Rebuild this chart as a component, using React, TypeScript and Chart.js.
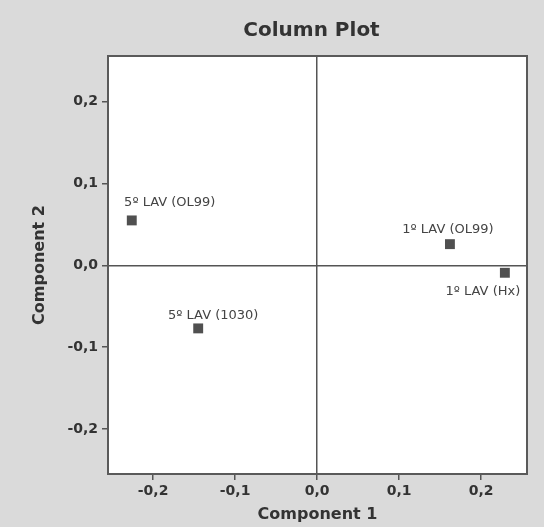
import React, { useEffect, useRef } from "react";
import { Chart, registerables } from "chart.js";

Chart.register(...registerables);

const pointLabels = ["5º LAV (OL99)", "5º LAV (1030)", "1º LAV (OL99)", "1º LAV (Hx)"];
const comp1 = [-0.226, -0.145, 0.162, 0.229];
const comp2 = [0.055, -0.077, 0.026, -0.009];
const tickValues = [-0.2, -0.1, 0, 0.1, 0.2];
const axisMin = -0.255;
const axisMax = 0.256;
const chartTitle = "Column Plot";
const xTitle = "Component 1";
const yTitle = "Component 2";

// label placement (style): offset of label centre from the point, in px
const labelOffsets = [
  [38, -18],
  [15, -13],
  [-2, -15],
  [-22, 19],
];

const FONT = "'DejaVu Sans', Verdana, sans-serif";
const fmt = (v: number) => (Math.abs(v) < 1e-9 ? "0,0" : v.toFixed(1).replace(".", ","));

export default function App() {
  const ref = useRef<HTMLCanvasElement | null>(null);

  useEffect(() => {
    document.body.style.margin = "0";
    document.body.style.background = "#dadada";
    const canvas = ref.current;
    if (!canvas) return;

    const framePlugin = {
      id: "frame",
      beforeDraw(chart: any) {
        const { ctx, chartArea: a } = chart;
        ctx.save();
        ctx.fillStyle = "#dadada";
        ctx.fillRect(0, 0, chart.width, chart.height);
        ctx.fillStyle = "#ffffff";
        ctx.fillRect(a.left, a.top, a.right - a.left, a.bottom - a.top);
        ctx.restore();
      },
      afterDraw(chart: any) {
        const { ctx, chartArea: a } = chart;
        ctx.save();
        ctx.strokeStyle = "#5a5a5a";
        ctx.lineWidth = 2;
        ctx.strokeRect(a.left, a.top, a.right - a.left, a.bottom - a.top);
        // title
        ctx.fillStyle = "#333333";
        ctx.font = `bold 20px ${FONT}`;
        ctx.textAlign = "center";
        ctx.textBaseline = "middle";
        ctx.fillText(chartTitle, (a.left + a.right) / 2 - 6, 31);
        ctx.restore();
      },
      afterDatasetsDraw(chart: any) {
        const { ctx } = chart;
        const meta = chart.getDatasetMeta(0);
        ctx.save();
        ctx.fillStyle = "#444444";
        ctx.font = `13px ${FONT}`;
        ctx.textAlign = "center";
        ctx.textBaseline = "middle";
        meta.data.forEach((el: any, i: number) => {
          const [dx, dy] = labelOffsets[i];
          ctx.fillText(pointLabels[i], el.x + dx, el.y + dy);
        });
        ctx.restore();
      },
    };

    const zeroGrid = (c: any) => (c.tick && Math.abs(c.tick.value) < 1e-9 ? "#555555" : "rgba(0,0,0,0)");

    const chart = new Chart(canvas, {
      type: "scatter",
      data: {
        datasets: [
          {
            data: comp1.map((x, i) => ({ x, y: comp2[i] })),
            pointStyle: "rect",
            pointRadius: 7,
            backgroundColor: "#505050",
            borderColor: "#505050",
            borderWidth: 0,
          },
        ],
      },
      options: {
        animation: false,
        responsive: false,
        layout: { padding: { top: 56, right: 17, left: 0, bottom: 0 } },
        plugins: { legend: { display: false }, tooltip: { enabled: false }, title: { display: false } },
        scales: {
          x: {
            type: "linear",
            min: axisMin,
            max: axisMax,
            afterBuildTicks: (s: any) => {
              s.ticks = tickValues.map((v) => ({ value: v }));
            },
            afterFit: (s: any) => {
              s.height = 53;
            },
            border: { display: false },
            grid: { color: zeroGrid, lineWidth: 1.5, tickColor: "#555555", tickLength: 6, tickWidth: 1.5, drawTicks: true },
            ticks: {
              callback: (v: any) => fmt(Number(v)),
              color: "#333333",
              font: { family: FONT, size: 14, weight: "bold" },
              padding: 3,
              maxRotation: 0,
            },
            title: {
              display: true,
              text: xTitle,
              color: "#333333",
              font: { family: FONT, size: 16, weight: "bold" },
              padding: { top: 0, bottom: 3 },
            },
          },
          y: {
            type: "linear",
            min: axisMin,
            max: axisMax,
            afterBuildTicks: (s: any) => {
              s.ticks = tickValues.map((v) => ({ value: v }));
            },
            afterFit: (s: any) => {
              s.width = 108;
            },
            border: { display: false },
            grid: { color: zeroGrid, lineWidth: 1.5, tickColor: "#555555", tickLength: 6, tickWidth: 1.5, drawTicks: true },
            ticks: {
              callback: (v: any) => fmt(Number(v)),
              color: "#333333",
              font: { family: FONT, size: 14, weight: "bold" },
              padding: 4,
            },
            title: {
              display: true,
              text: yTitle,
              color: "#333333",
              font: { family: FONT, size: 16, weight: "bold" },
              padding: { top: 30, bottom: 0 },
            },
          },
        },
      },
      plugins: [framePlugin],
    } as any);

    return () => chart.destroy();
  }, []);

  return (
    <div style={{ width: 544, height: 527 }}>
      <canvas ref={ref} width={544} height={527} style={{ display: "block" }} />
    </div>
  );
}
